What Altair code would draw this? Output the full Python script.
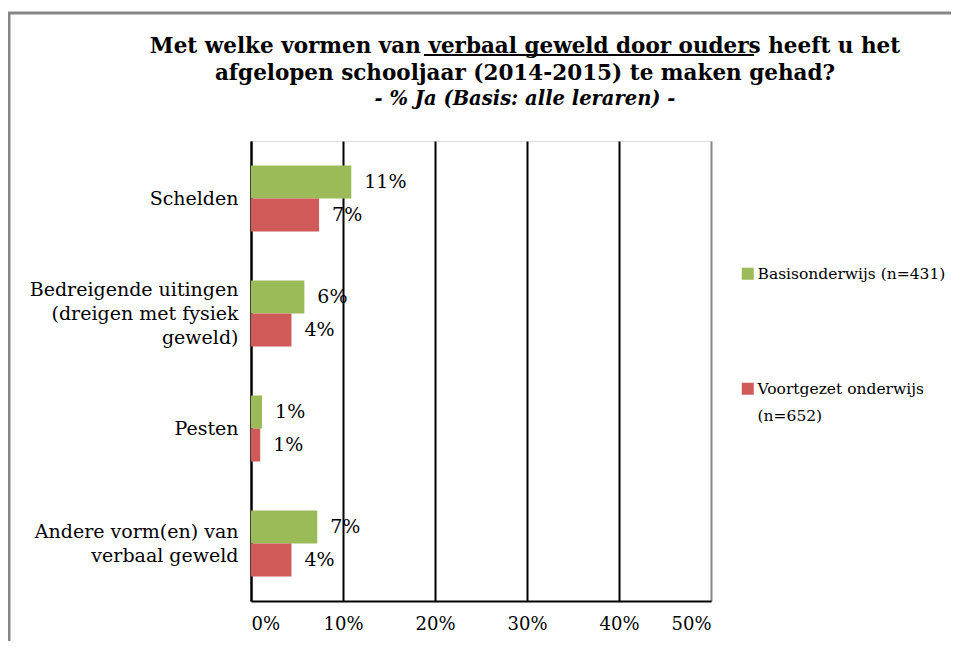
import altair as alt
import pandas as pd

categories = ["Schelden", "Bedreigende uitingen\n(dreigen met fysiek\ngeweld)", "Pesten",
              "Andere vorm(en) van\nverbaal geweld"]
series = ["Basisonderwijs (n=431)", "Voortgezet onderwijs\n(n=652)"]
basis = [0.109, 0.058, 0.012, 0.072]
voortgezet = [0.074, 0.044, 0.010, 0.044]
colors = ["#9BBB59", "#D05A58"]
x_ticks = [0, 0.1, 0.2, 0.3, 0.4, 0.5]
title_lines = ["Met welke vormen van verbaal geweld door ouders heeft u het",
               "afgelopen schooljaar (2014-2015) te maken gehad?"]
subtitle = "- % Ja (Basis: alle leraren) -"

rows = []
for i, c in enumerate(categories):
    rows.append({"cat": c, "serie": series[0], "val": basis[i]})
    rows.append({"cat": c, "serie": series[1], "val": voortgezet[i]})
df = pd.DataFrame(rows)

FONT = "DejaVu Serif"
FS = 19

x = alt.X("val:Q", scale=alt.Scale(domain=[0, 0.5], nice=False),
          axis=alt.Axis(title=None, values=x_ticks, format=".0%", ticks=False,
                        labelPadding=14, labelFontSize=18, labelFont=FONT, labelColor="black",
                        domainColor="black", domainWidth=2, grid=True, gridWidth=2,
                        gridColor=alt.condition("datum.value >= 0.5", alt.value("#868686"), alt.value("black"))))
nlines = "length(split(datum.value, '\\n'))"
y = alt.Y("cat:N", sort=categories,
          scale=alt.Scale(paddingInner=0.426, paddingOuter=0.213),
          axis=alt.Axis(title=None, labelExpr="split(datum.label, '\\n')", ticks=False,
                        labelPadding=13, labelFontSize=FS, labelLineHeight=24, labelFont=FONT,
                        labelColor="black", domainColor="black", domainWidth=2, labelLimit=300,
                        labelOffset={"condition": [{"test": nlines + " == 3", "value": -24},
                                                   {"test": nlines + " == 2", "value": -12}],
                                     "value": 0}))
yoff = alt.YOffset("serie:N", sort=series, scale=alt.Scale(paddingInner=0, paddingOuter=0))

color = alt.Color("serie:N", sort=series, scale=alt.Scale(domain=series, range=colors),
                  legend=alt.Legend(title=None, orient="none", legendX=489, legendY=125,
                                    direction="vertical",
                                    symbolType="square", symbolSize=144, symbolStrokeWidth=0,
                                    labelFont=FONT, labelFontSize=15.5,
                                    labelColor="black", labelOffset=2, labelLimit=300,
                                    rowPadding=71,
                                    labelExpr="indexof(datum.label, '\\n') >= 0 ? split(datum.label, '\\n') : [datum.label, ' ']"))

bars = alt.Chart(df).mark_bar().encode(x=x, y=y, yOffset=yoff, color=color)
labels = alt.Chart(df).mark_text(align="left", baseline="middle", dx=13, font=FONT,
                                 fontSize=FS, color="black").encode(
    x="val:Q", y=alt.Y("cat:N", sort=categories), yOffset=alt.YOffset("serie:N", sort=series),
    text=alt.Text("val:Q", format=".0%"))

border = alt.Chart(alt.Data(values=[{}])).mark_rule(color="#868686", strokeWidth=3)
left_b = border.encode(x=alt.value(-242), y=alt.value(-129), y2=alt.value(700))
top_b = border.encode(x=alt.value(-243), x2=alt.value(900), y=alt.value(-128))
underline = alt.Chart(alt.Data(values=[{}])).mark_rule(color="black", strokeWidth=2).encode(
    x=alt.value(173), x2=alt.value(503), y=alt.value(-86))

chart = alt.layer(bars, labels, left_b, top_b, underline).properties(
    width=460, height=460,
    autosize=alt.AutoSizeParams(type="none"),
    padding={"left": 243, "top": 133, "right": 240, "bottom": 40},
    title=alt.TitleParams(text=title_lines, subtitle=subtitle, font=FONT, fontSize=21.5,
                          fontWeight="bold", color="black", lineHeight=27,
                          subtitleFont=FONT, subtitleFontSize=19.5, subtitleFontStyle="italic",
                          subtitleFontWeight="bold", subtitleColor="black",
                          subtitlePadding=6, anchor="middle", dx=44, offset=0, dy=98)
).configure_view(stroke="#868686", strokeWidth=2).configure(
    background="white", style={"guide-label": {"lineHeight": 27}})

chart.save("out.html", embed_options={"renderer": "svg", "actions": False})
